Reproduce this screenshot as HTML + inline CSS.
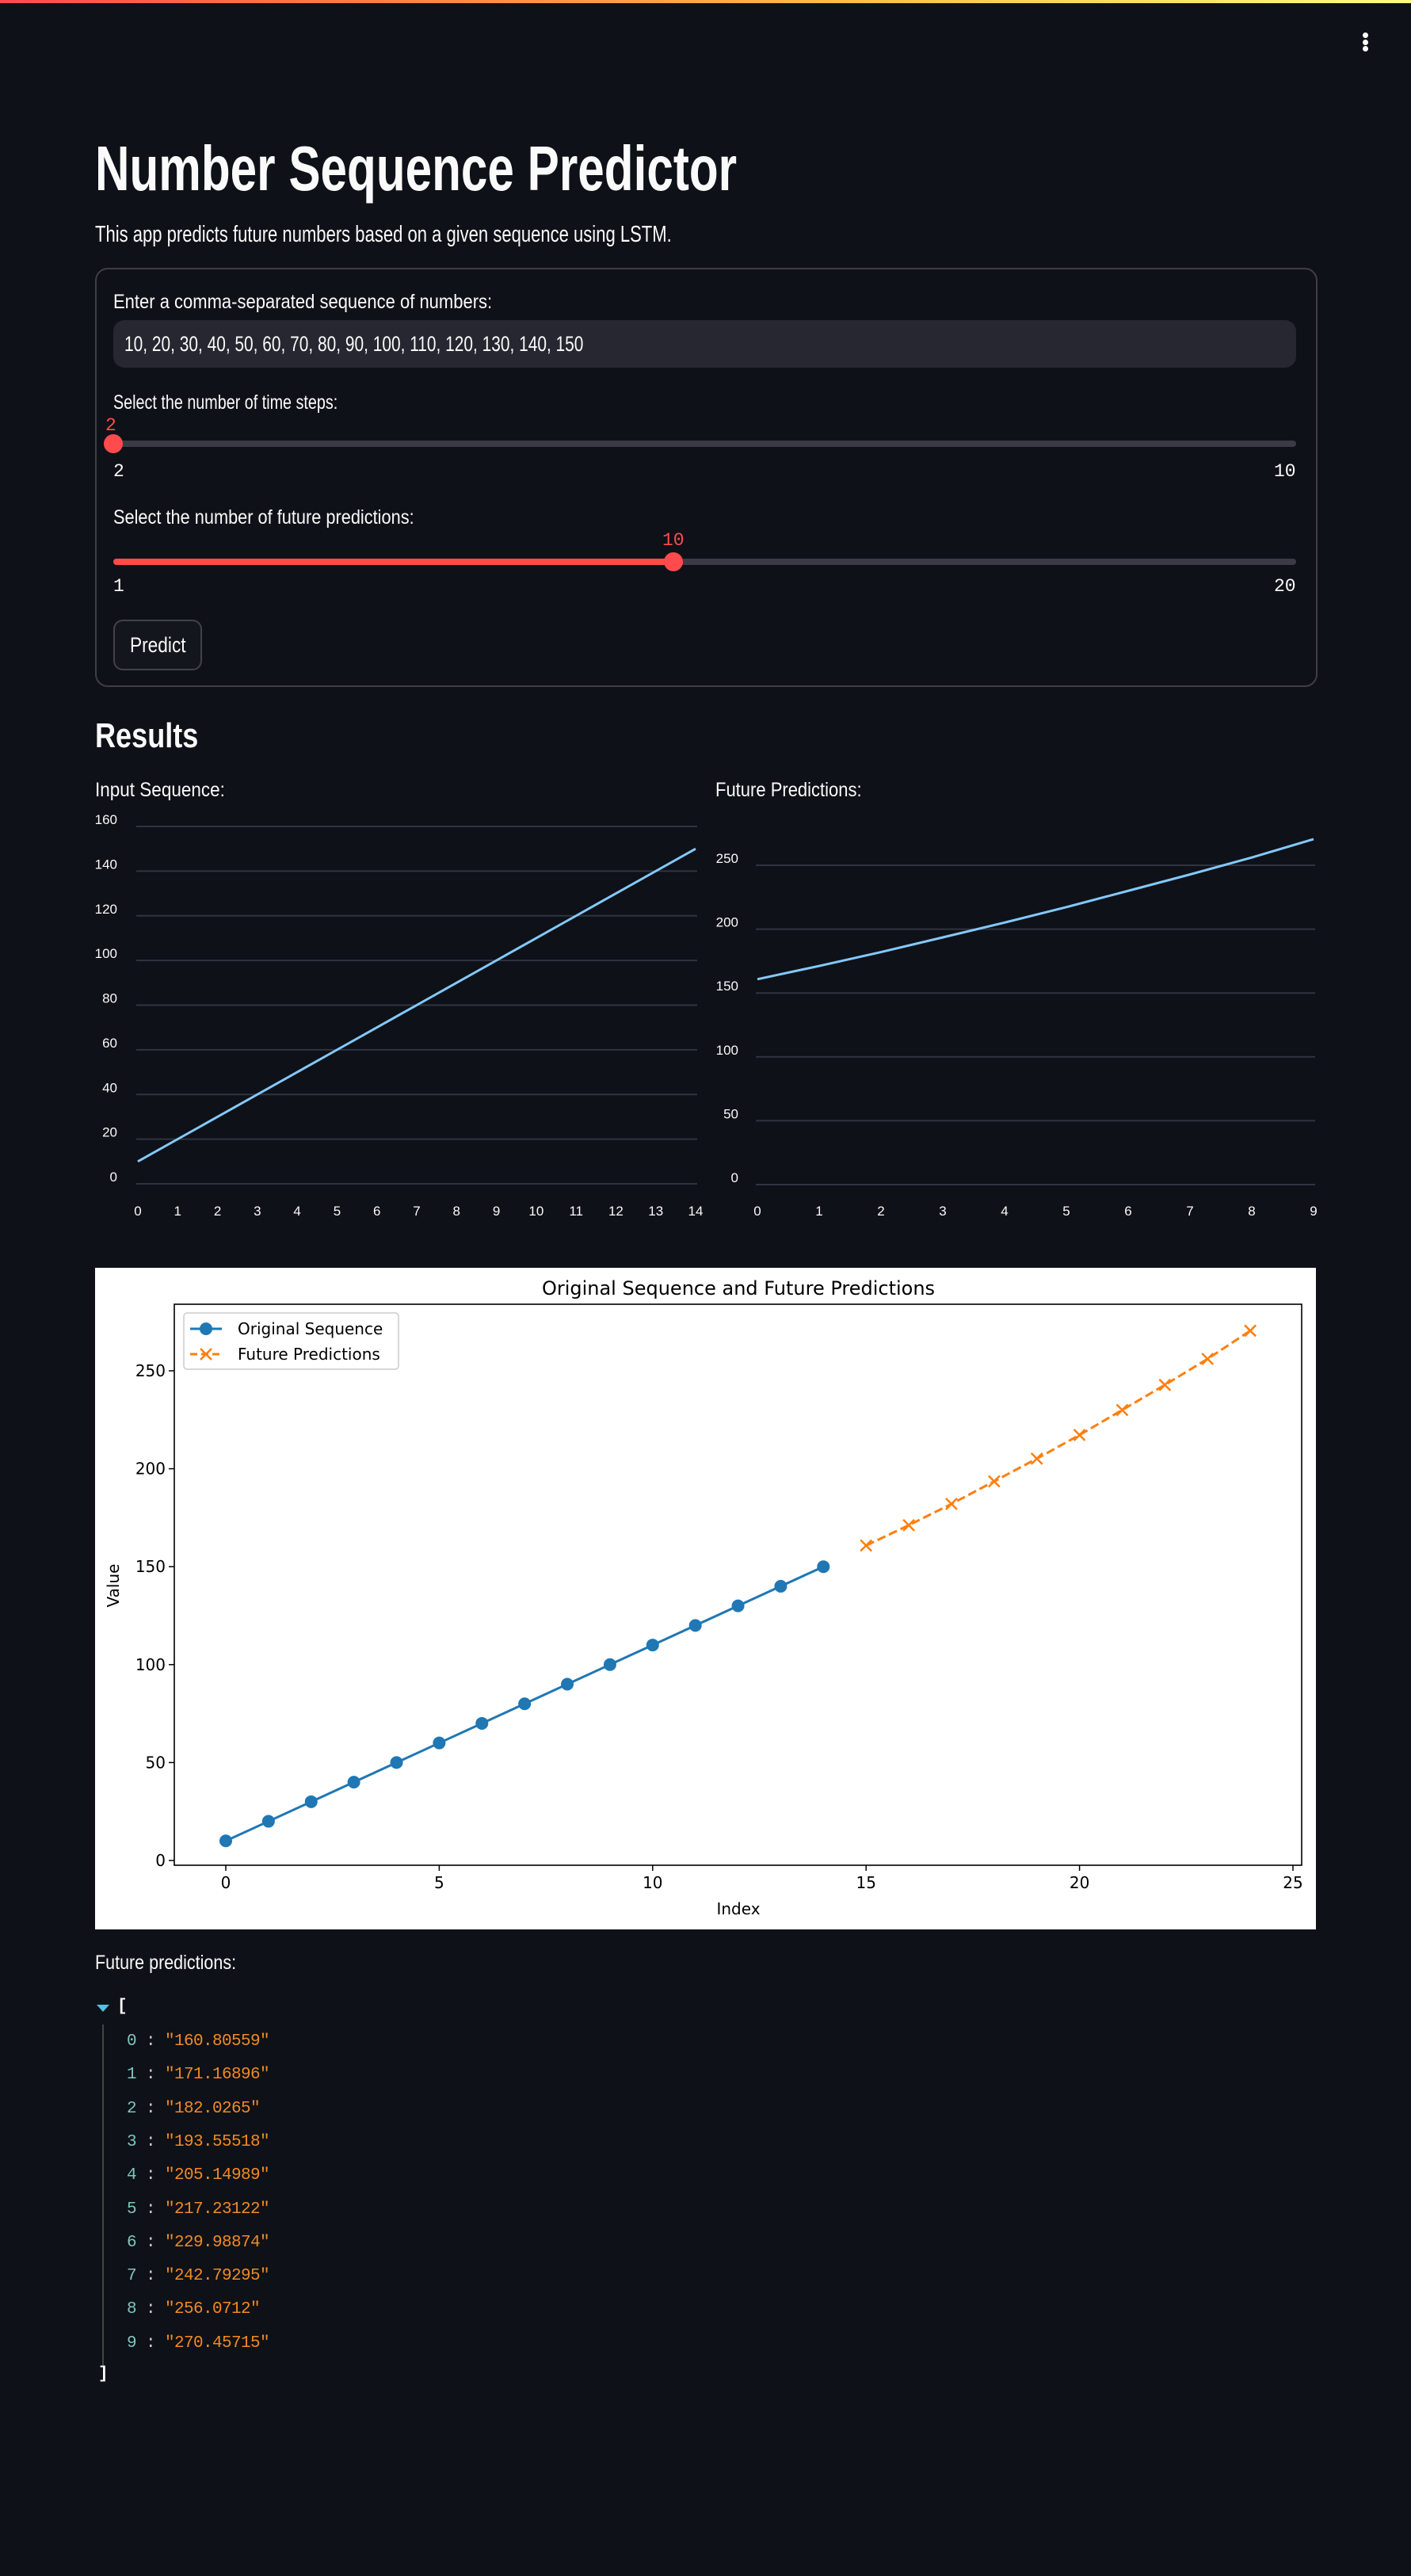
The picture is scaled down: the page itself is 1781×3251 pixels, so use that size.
<!DOCTYPE html>
<html><head><meta charset="utf-8">
<style>
html,body{margin:0;padding:0;background:#0e1117;}
body{width:1781px;height:3251px;position:relative;overflow:hidden;font-family:"Liberation Sans",sans-serif;color:#fafafa;}
.abs{position:absolute;white-space:nowrap;}
.sx{transform-origin:left center;display:inline-block;}
.mono{font-family:"Liberation Mono",monospace;}
</style></head>
<body>
<div class="abs" style="left:0;top:0;width:1781px;height:4px;background:linear-gradient(90deg,#ff4b4b,#ffbd45 60%,#fffd80);"></div>
<div class="abs" style="left:1712px;top:38px;width:24px;height:30px;">
  <div style="position:absolute;left:8px;top:3px;width:7px;height:7px;border-radius:50%;background:#fff"></div>
  <div style="position:absolute;left:8px;top:12px;width:7px;height:7px;border-radius:50%;background:#fff"></div>
  <div style="position:absolute;left:8px;top:20px;width:7px;height:7px;border-radius:50%;background:#fff"></div>
</div>

<div class="abs" style="left:120px;top:168px;font-size:80px;font-weight:bold;line-height:90px;"><span class="sx" style="transform:scaleX(0.753)">Number Sequence Predictor</span></div>
<div class="abs" style="left:120px;top:278px;font-size:29px;line-height:36px;"><span class="sx" style="transform:scaleX(0.76)">This app predicts future numbers based on a given sequence using LSTM.</span></div>

<div class="abs" style="left:120px;top:338px;width:1539px;height:525px;border:2px solid rgba(250,250,250,0.2);border-radius:16px;"></div>
<div class="abs" style="left:143px;top:365px;font-size:25px;line-height:32px;"><span class="sx" style="transform:scaleX(0.88)">Enter a comma-separated sequence of numbers:</span></div>
<div class="abs" style="left:143px;top:404px;width:1493px;height:60px;background:#262730;border-radius:14px;"><span class="sx" style="position:absolute;left:14px;top:12px;font-size:27px;line-height:36px;transform:scaleX(0.774)">10, 20, 30, 40, 50, 60, 70, 80, 90, 100, 110, 120, 130, 140, 150</span></div>

<div class="abs" style="left:143px;top:492px;font-size:25px;line-height:32px;"><span class="sx" style="transform:scaleX(0.79)">Select the number of time steps:</span></div>
<div class="abs mono" style="left:133px;top:523px;font-size:23px;line-height:28px;color:#ff4b4b;">2</div>
<div class="abs" style="left:143px;top:556px;width:1493px;height:8px;border-radius:4px;background:#3a3b44;"></div>
<div class="abs" style="left:131px;top:548px;width:24px;height:24px;border-radius:50%;background:#ff4b4b;"></div>
<div class="abs mono" style="left:143px;top:581px;font-size:23px;line-height:28px;">2</div>
<div class="abs mono" style="left:1608px;top:581px;font-size:23px;line-height:28px;">10</div>

<div class="abs" style="left:143px;top:637px;font-size:25px;line-height:32px;"><span class="sx" style="transform:scaleX(0.87)">Select the number of future predictions:</span></div>
<div class="abs mono" style="left:836px;top:668px;font-size:23px;line-height:28px;color:#ff4b4b;">10</div>
<div class="abs" style="left:143px;top:705px;width:1493px;height:8px;border-radius:4px;background:#3a3b44;"></div>
<div class="abs" style="left:143px;top:705px;width:707px;height:8px;border-radius:4px;background:#ff4b4b;"></div>
<div class="abs" style="left:838px;top:697px;width:24px;height:24px;border-radius:50%;background:#ff4b4b;"></div>
<div class="abs mono" style="left:143px;top:726px;font-size:23px;line-height:28px;">1</div>
<div class="abs mono" style="left:1608px;top:726px;font-size:23px;line-height:28px;">20</div>

<div class="abs" style="left:143px;top:782px;width:108px;height:60px;border:2px solid rgba(250,250,250,0.2);border-radius:12px;background:#13161d;"><span class="sx" style="position:absolute;left:19px;top:12px;font-size:27px;line-height:36px;transform:scaleX(0.84)">Predict</span></div>

<div class="abs" style="left:120px;top:901px;font-size:44px;font-weight:bold;line-height:56px;"><span class="sx" style="transform:scaleX(0.82)">Results</span></div>
<div class="abs" style="left:120px;top:981px;font-size:25px;line-height:32px;"><span class="sx" style="transform:scaleX(0.9)">Input Sequence:</span></div>
<div class="abs" style="left:903px;top:981px;font-size:25px;line-height:32px;"><span class="sx" style="transform:scaleX(0.88)">Future Predictions:</span></div>

<svg id="charts" class="abs" style="left:0;top:0" width="1781" height="1580"></svg>
<svg id="mpl" class="abs" style="left:120px;top:1600px" width="1541" height="835"></svg>

<div class="abs" style="left:120px;top:2461px;font-size:25px;line-height:32px;"><span class="sx" style="transform:scaleX(0.86)">Future predictions:</span></div>
<div id="json"></div>

<script>
const inputValues=[10,20,30,40,50,60,70,80,90,100,110,120,130,140,150];
const predValues=[160.80559,171.16896,182.0265,193.55518,205.14989,217.23122,229.98874,242.79295,256.0712,270.45715];
const predStrings=["160.80559","171.16896","182.0265","193.55518","205.14989","217.23122","229.98874","242.79295","256.0712","270.45715"];
const leftYTicks=[0,20,40,60,80,100,120,140,160];
const rightYTicks=[0,50,100,150,200,250];
const mplXTicks=[0,5,10,15,20,25];
const mplYTicks=[0,50,100,150,200,250];

const NS="http://www.w3.org/2000/svg";
function mk(svg,tag,attrs,text){const e=document.createElementNS(NS,tag);for(const k in attrs)e.setAttribute(k,attrs[k]);if(text!==undefined)e.textContent=text;svg.appendChild(e);return e;}

const cs=document.getElementById('charts');
function stChart(name,vals,yTicks,x0,x1,yMin,yMax,py0,py1,labX){
  const n=vals.length;
  const sx=i=>x0+(x1-x0)*i/(n-1);
  const sy=v=>py0-(py0-py1)*(v-yMin)/(yMax-yMin);
  yTicks.forEach(t=>{
    const g=mk(cs,'line',{x1:x0-2,x2:x1+2,y1:sy(t),y2:sy(t),stroke:'#31333f','stroke-width':2});
    
    const l=mk(cs,'text',{x:labX,y:sy(t)-3,'text-anchor':'end','font-size':17,fill:'#fafafa','font-family':'Liberation Sans'},t);
    
  });
  for(let i=0;i<n;i++){
    const l=mk(cs,'text',{x:sx(i),y:1534,'text-anchor':'middle','font-size':17,fill:'#fafafa','font-family':'Liberation Sans'},i);
    
  }
  const p=mk(cs,'polyline',{points:vals.map((v,i)=>sx(i)+','+sy(v)).join(' '),fill:'none',stroke:'#83c9ff','stroke-width':3});
  
}
stChart('input-chart',inputValues,leftYTicks,174,878,0,160,1494,1043,148);
stChart('predictions-chart',predValues,rightYTicks,956,1658,0,250,1495,1092,932);

const m=document.getElementById('mpl');
mk(m,'rect',{x:0,y:0,width:1541,height:835,fill:'#ffffff'});
const AL=100,AR=1523,AT=46,AB=754;
const mx=v=>165+53.88*v;
const my=v=>748-2.472*v;
const f='DejaVu Sans, sans-serif';
mk(m,'rect',{x:AL,y:AT,width:AR-AL,height:AB-AT,fill:'none',stroke:'#000','stroke-width':1.6});
mplXTicks.forEach(t=>{
  mk(m,'line',{x1:mx(t),x2:mx(t),y1:AB,y2:AB+7,stroke:'#000','stroke-width':1.5});
  const l=mk(m,'text',{x:mx(t),y:AB+29,'text-anchor':'middle','font-size':20,'font-family':f,fill:'#000'},t);
  
});
mplYTicks.forEach(t=>{
  mk(m,'line',{x1:AL-7,x2:AL,y1:my(t),y2:my(t),stroke:'#000','stroke-width':1.5});
  const l=mk(m,'text',{x:AL-11,y:my(t)+7,'text-anchor':'end','font-size':20,'font-family':f,fill:'#000'},t);
  
});
let t=mk(m,'text',{x:812,y:34,'text-anchor':'middle','font-size':24,'font-family':f,fill:'#000'},'Original Sequence and Future Predictions');

t=mk(m,'text',{x:812,y:816,'text-anchor':'middle','font-size':20,'font-family':f,fill:'#000'},'Index');

t=mk(m,'text',{x:30,y:401,'text-anchor':'middle','font-size':20,'font-family':f,fill:'#000',transform:'rotate(-90 30 401)'},'Value');

let pl=mk(m,'polyline',{points:inputValues.map((v,i)=>mx(i)+','+my(v)).join(' '),fill:'none',stroke:'#1f77b4','stroke-width':3});

inputValues.forEach((v,i)=>{const c=mk(m,'circle',{cx:mx(i),cy:my(v),r:8,fill:'#1f77b4'});});
const off=inputValues.length;
pl=mk(m,'polyline',{points:predValues.map((v,i)=>mx(i+off)+','+my(v)).join(' '),fill:'none',stroke:'#ff7f0e','stroke-width':3,'stroke-dasharray':'11,5'});

predValues.forEach((v,i)=>{const x=mx(i+off),y=my(v);const p=mk(m,'path',{d:`M${x-7},${y-7}L${x+7},${y+7}M${x-7},${y+7}L${x+7},${y-7}`,stroke:'#ff7f0e','stroke-width':2.5});});
const lg=mk(m,'rect',{x:112,y:57,width:271,height:71,rx:4,fill:'#fff',stroke:'#ccc','stroke-width':1.5});

mk(m,'line',{x1:120,x2:160,y1:77,y2:77,stroke:'#1f77b4','stroke-width':3});
mk(m,'circle',{cx:140,cy:77,r:8,fill:'#1f77b4'});
t=mk(m,'text',{x:180,y:84,'font-size':20,'font-family':f,fill:'#000'},'Original Sequence');

mk(m,'line',{x1:120,x2:160,y1:109,y2:109,stroke:'#ff7f0e','stroke-width':3,'stroke-dasharray':'9,5'});
mk(m,'path',{d:'M133,102L147,116M133,116L147,102',stroke:'#ff7f0e','stroke-width':2.5});
t=mk(m,'text',{x:180,y:116,'font-size':20,'font-family':f,fill:'#000'},'Future Predictions');


const j=document.getElementById('json');
let h='<div class="abs" style="left:122px;top:2530px;width:0;height:0;border-left:8px solid transparent;border-right:8px solid transparent;border-top:9px solid #4fc3e6;"></div>';
h+='<div class="abs mono" style="left:148px;top:2519px;font-size:21px;line-height:28px;font-weight:bold;color:#fff">[</div>';
h+='<div class="abs" style="left:129px;top:2555px;width:2px;height:432px;background:#444"></div>';
predStrings.forEach((s,i)=>{
  h+='<div class="abs mono" style="left:160px;top:'+(2563+42.3*i)+'px;font-size:21px;line-height:28px;letter-spacing:-0.6px"><span style="color:#7fc5bb">'+i+'</span><span style="color:#ccc"> : </span><span style="color:#f08a24">"'+s+'"</span></div>';
});
h+='<div class="abs mono" style="left:124px;top:2983px;font-size:21px;line-height:28px;font-weight:bold;color:#fff">]</div>';
j.innerHTML=h;
</script>
</body></html>
